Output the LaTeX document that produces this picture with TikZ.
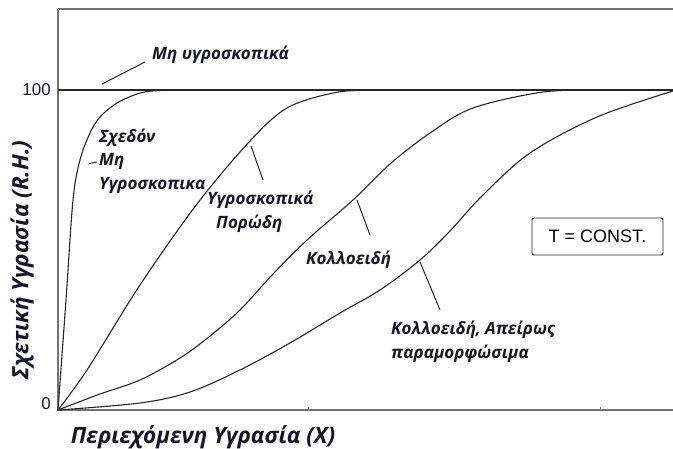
\documentclass[tikz,border=0pt]{standalone}
\usepackage{fontspec}
\usepackage{tikz}
\newfontfamily\grk{Open Sans}
\newfontfamily\arl{Liberation Sans}
\definecolor{framecol}{gray}{0.45}
\definecolor{curvecol}{gray}{0.15}
\definecolor{textcol}{RGB}{22,22,40}
\tikzset{
  lab/.style={font={\grk\bfseries\itshape\fontsize{17}{23.5}\selectfont},text=textcol,align=left,inner sep=0pt},
  axlab/.style={font={\grk\bfseries\itshape\fontsize{22.5}{26}\selectfont},text=textcol,inner sep=0pt},
  tick/.style={font={\arl\fontsize{17}{19}\selectfont},text=textcol,inner sep=0pt},
  curve/.style={draw=curvecol,line width=1.1pt,smooth,tension=0.55},
  leader/.style={draw=curvecol,line width=1pt},
  boxed/.style={draw=curvecol,line width=0.9pt,rounded corners=2pt,minimum width=131pt,minimum height=37pt,font={\arl\fontsize{18}{20}\selectfont}},
}
\begin{document}
\begin{tikzpicture}[x=1pt,y=-1pt]
  \useasboundingbox (0,0) rectangle (673,448);
  % frame and 100 line
  \coordinate (o) at (58,410);
  \draw[framecol,line width=1.2pt] (58,9) -- (673,9);
  \draw[framecol,line width=1.5pt] (58,9) -- (o) -- (673,410);
  \draw[curvecol,line width=1.3pt] (58,90) -- (673,90);
  \draw[framecol,line width=0.8pt] (308,410) -- (308,407);
  \draw[framecol,line width=0.8pt] (600,410) -- (600,407);
  \node[tick,anchor=east] (y100) at (51,90) {100};
  \node[tick,anchor=east] (y0) at (51,404) {0};
  % curves
  \draw[curve] plot coordinates {(o) (66,300) (73,200) (80,160) (90,133) (100,117) (117,103) (140,93) (160,90.5) (190,90)};
  \draw[curve] plot coordinates {(o) (87,370) (140,285) (197,204) (250,141) (287,108) (333,93) (370,90) (410,90)};
  \draw[curve] plot coordinates {(o) (100,394) (140,380) (180,358) (210,336) (240,310) (273,274) (307,240) (353,200) (390,164) (430,133) (473,108) (543,92) (600,90)};
  \draw[curve] plot coordinates {(o) (140,403) (190,392) (240,370) (290,343) (340,313) (380,290) (420,260) (450,231) (482,196) (530,153) (597,117) (673,91)};
  % labels
  \node[lab,anchor=west] (nonhyg) at (152,55) {Μη υγροσκοπικά};
  \node[lab,anchor=west] (almost) at (99,161) {Σχεδόν\\Μη\\Υγροσκοπικα};
  \node[lab,anchor=west] (porous) at (207,212) {Υγροσκοπικά\\\hspace*{9pt}Πορώδη};
  \node[lab,anchor=west] (colloid) at (306,260) {Κολλοειδή};
  \node[lab,anchor=west] (deform) at (391,342) {Κολλοειδή, Απείρως\\παραμορφώσιμα};
  \node[boxed] (tconst) at (597.5,236.5) {T = CONST.};
  % leaders
  \coordinate (l1a) at (102,84); \coordinate (l1b) at (145,62);
  \coordinate (l2a) at (89,163.5); \coordinate (l2b) at (97,162);
  \coordinate (l3a) at (251,146); \coordinate (l3b) at (263,180);
  \coordinate (l4a) at (357,200); \coordinate (l4b) at (370,235);
  \coordinate (l5a) at (420,262); \coordinate (l5b) at (440,310);
  \draw[leader] (l1a) -- (l1b);
  \draw[leader] (l2a) -- (l2b);
  \draw[leader] (l3a) -- (l3b);
  \draw[leader] (l4a) -- (l4b);
  \draw[leader] (l5a) -- (l5b);
  % axis titles
  \node[axlab,rotate=90] (ytitle) at (22,260) {Σχετική Υγρασία (R.H.)};
  \node[axlab] (xtitle) at (203,437) {Περιεχόμενη Υγρασία (Χ)};
\end{tikzpicture}
\end{document}
